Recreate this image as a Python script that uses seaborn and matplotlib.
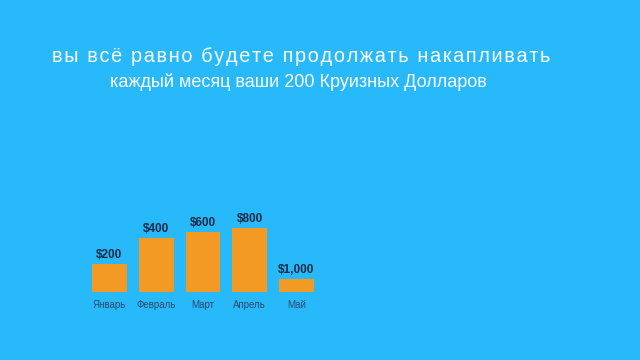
import matplotlib
matplotlib.use("Agg")
import matplotlib.pyplot as plt
import seaborn as sns
import pandas as pd

months = ["Январь", "Февраль", "Март", "Апрель", "Май"]
value_labels = ["$200", "$400", "$600", "$800", "$1,000"]
# heights of bars as shown in the frame (animated, not to scale)
bar_heights = [28, 54, 60, 64, 13]

title_1 = "вы всё равно будете продолжать накапливать"
title_2 = "каждый месяц ваши 200 Круизных Долларов"

bg = "#28B9FB"
orange = "#F39A24"
navy = "#1B2B45"

sns.set_style("white")
plt.rcParams["font.family"] = ["Liberation Sans", "DejaVu Sans"]

df = pd.DataFrame({"month": months, "h": bar_heights})

fig = plt.figure(figsize=(6.4, 3.6), dpi=100)
fig.patch.set_facecolor(bg)

# axes placed so bars sit at the same pixels as in the frame
ax = fig.add_axes([86.1 / 640, 68 / 360, 233.75 / 640, 100 / 360])
ax.set_facecolor(bg)
sns.barplot(data=df, x="month", y="h", color=orange, width=0.74,
            saturation=1, linewidth=0, ax=ax)
ax.set_xlim(-0.5, 4.5)
ax.set_ylim(0, 100)
for s in ax.spines.values():
    s.set_visible(False)
ax.set_xlabel("")
ax.set_ylabel("")
ax.set_yticks([])
ax.tick_params(axis="x", length=0, pad=6, labelsize=7, labelcolor="#2B4A6B")

for i, (h, lab) in enumerate(zip(bar_heights, value_labels)):
    ax.text(i, h + 3, lab, ha="center", va="bottom", fontsize=8.5,
            fontweight="bold", color=navy)

# wide letter spacing on the first line
spaced = "\u200a".join(title_1)
fig.text(301 / 640, 1 - 56 / 360, spaced, ha="center", va="center",
         fontsize=14.3, color="white")
fig.text(298 / 640, 1 - 82 / 360, title_2, ha="center", va="center",
         fontsize=13, color="white")

fig.savefig("out.png", dpi=100, facecolor=bg)
